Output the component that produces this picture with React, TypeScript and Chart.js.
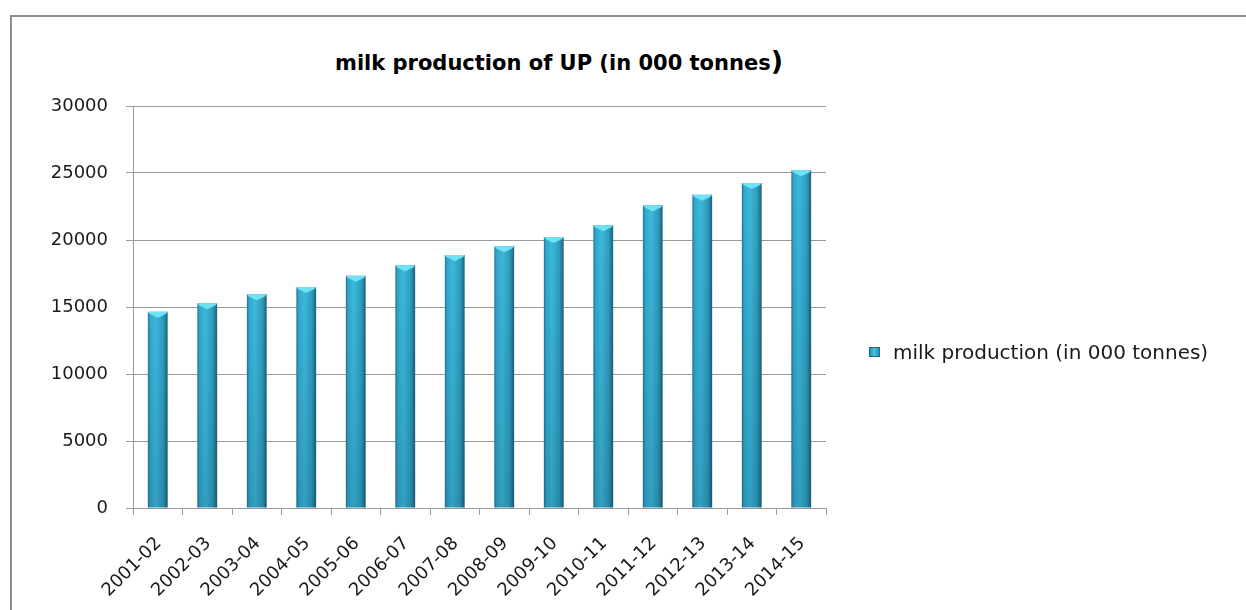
import React, { useEffect, useRef } from "react";
import { Chart, registerables } from "chart.js";

Chart.register(...registerables);

const categories = [
  "2001-02", "2002-03", "2003-04", "2004-05", "2005-06", "2006-07", "2007-08",
  "2008-09", "2009-10", "2010-11", "2011-12", "2012-13", "2013-14", "2014-15",
];
const milkProduction = [
  14650, 15280, 15950, 16500, 17325, 18125, 18875,
  19525, 20225, 21100, 22600, 23375, 24250, 25200,
];
const seriesLabel = "milk production (in 000 tonnes)";
const titleText = "milk production of UP (in 000 tonnes";
const yMin = 0;
const yMax = 30000;
const yStep = 5000;

const FONT = "'DejaVu Sans', sans-serif";

const capPlugin = {
  id: "barCaps",
  afterDatasetsDraw(chart: any) {
    const ctx = chart.ctx;
    const meta = chart.getDatasetMeta(0);
    ctx.save();
    meta.data.forEach((el: any) => {
      const { x, y, base, width } = el.getProps(["x", "y", "base", "width"], true);
      const l = x - width / 2;
      const r = x + width / 2;
      // vertical shading (darker toward bottom)
      const g = ctx.createLinearGradient(0, y, 0, base);
      g.addColorStop(0, "rgba(0,30,50,0)");
      g.addColorStop(1, "rgba(0,30,50,0.16)");
      ctx.fillStyle = g;
      ctx.fillRect(l, y, width, base - y);
      // top bevel cap
      ctx.beginPath();
      ctx.moveTo(l, y);
      ctx.lineTo(r, y);
      ctx.lineTo(r - 1.5, y + 2);
      ctx.lineTo(x, y + 6);
      ctx.lineTo(l + 1.5, y + 2);
      ctx.closePath();
      ctx.fillStyle = "#6fe2f6";
      ctx.fill();
    });
    ctx.restore();
  },
};

export default function App() {
  const ref = useRef<HTMLCanvasElement | null>(null);

  useEffect(() => {
    if (!ref.current) return;
    const chart = new Chart(ref.current, {
      type: "bar",
      data: {
        labels: categories,
        datasets: [
          {
            label: seriesLabel,
            data: milkProduction,
            barPercentage: 0.4,
            categoryPercentage: 1.0,
            borderWidth: 0,
            backgroundColor: (c: any) => {
              const ch = c.chart;
              if (!ch.chartArea || c.type !== "data") return "#33a9cc";
              const xs = ch.scales.x;
              const cx = xs.getPixelForValue(c.dataIndex);
              const w = (xs.width / categories.length) * 0.4;
              const g = ch.ctx.createLinearGradient(cx - w / 2, 0, cx + w / 2, 0);
              g.addColorStop(0, "#1f7894");
              g.addColorStop(0.12, "#33a8cb");
              g.addColorStop(0.4, "#3cb9dd");
              g.addColorStop(0.78, "#2e9dbe");
              g.addColorStop(1, "#1a6178");
              return g;
            },
          },
        ],
      },
      options: {
        animation: false,
        responsive: false,
        devicePixelRatio: 1,
        layout: { padding: { top: 12, bottom: 12, left: 0, right: 420 } },
        plugins: {
          title: { display: false },
          tooltip: { enabled: false },
          legend: { display: false },
        },
        scales: {
          x: {
            afterFit: (s: any) => {
              s.height = 90;
            },
            grid: {
              offset: true,
              drawOnChartArea: false,
              drawTicks: true,
              tickLength: 7,
              color: "#9a9a9a",
            },
            border: { color: "#9a9a9a", width: 1 },
            ticks: {
              minRotation: 45,
              maxRotation: 45,
              autoSkip: false,
              padding: 18,
              labelOffset: 1,
              color: "#1a1a1a",
              font: { family: FONT, size: 18 },
            },
          },
          y: {
            min: yMin,
            max: yMax,
            afterFit: (s: any) => {
              s.width = 121;
              s.paddingTop = 0;
              s.paddingBottom = 0;
            },
            grid: {
              color: "#9a9a9a",
              drawTicks: true,
              tickLength: 7,
            },
            border: { color: "#9a9a9a", width: 1 },
            ticks: {
              stepSize: yStep,
              padding: 18,
              color: "#1a1a1a",
              font: { family: FONT, size: 18 },
              callback: (v: any) => String(v),
            },
          },
        },
      },
      plugins: [capPlugin],
    });
    return () => chart.destroy();
  }, []);

  return (
    <div
      style={{
        position: "fixed",
        left: 0,
        top: 0,
        width: 1246,
        height: 610,
        background: "#ffffff",
        overflow: "hidden",
      }}
    >
      <div
        style={{
          position: "absolute",
          left: 10,
          top: 15,
          width: 1240,
          height: 600,
          borderTop: "2px solid #8c8c8c",
          borderLeft: "2px solid #8c8c8c",
          boxSizing: "border-box",
        }}
      />
      <div
        style={{
          position: "absolute",
          left: 335,
          top: 49,
          fontFamily: FONT,
          fontWeight: "bold",
          fontSize: 21,
          lineHeight: "24px",
          color: "#000",
          whiteSpace: "nowrap",
        }}
      >
        {titleText}
        <span style={{ fontSize: 27 }}>)</span>
      </div>
      <canvas
        ref={ref}
        width={1234}
        height={516}
        style={{ position: "absolute", left: 12, top: 94, width: 1234, height: 516 }}
      />
      <div
        style={{
          position: "absolute",
          left: 869,
          top: 340,
          height: 24,
          display: "flex",
          alignItems: "center",
          fontFamily: FONT,
          fontSize: 20,
          lineHeight: "24px",
          color: "#1a1a1a",
          whiteSpace: "nowrap",
        }}
      >
        <span
          style={{
            display: "inline-block",
            width: 11,
            height: 10,
            marginRight: 13,
            boxSizing: "border-box",
            border: "1px solid #1d6e86",
            background: "linear-gradient(90deg, #2a8fae, #45c2e4 45%, #2a93b3)",
          }}
        />
        <span>{seriesLabel}</span>
      </div>
    </div>
  );
}
